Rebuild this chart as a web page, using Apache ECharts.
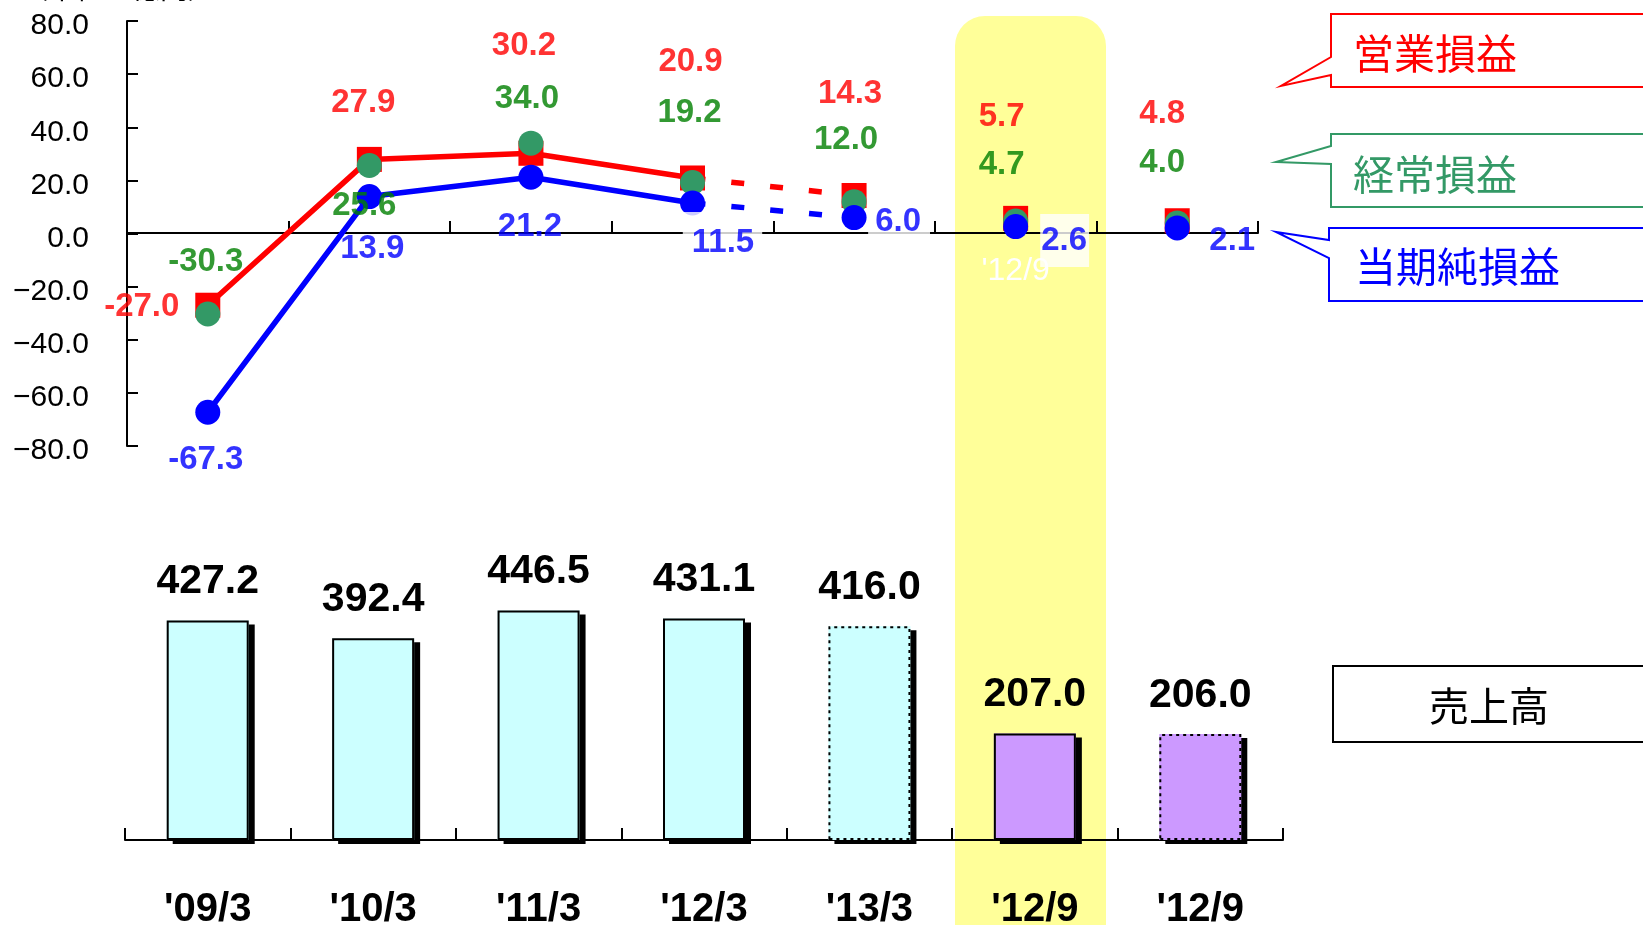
<!DOCTYPE html>
<html>
<head>
<meta charset="utf-8">
<script src="https://cdn.jsdelivr.net/npm/echarts@6/dist/echarts.min.js"></script>
<style>
  html, body { margin: 0; padding: 0; background: #fff; }
  #chart { width: 1643px; height: 925px; }
</style>
</head>
<body>
<div id="chart"></div>
<script>
// カテゴリと値
var categories = ["'09/3", "'10/3", "'11/3", "'12/3", "'13/3", "'12/9", "'12/9"];
var sales = [427.2, 392.4, 446.5, 431.1, 416.0, 207.0, 206.0];           // 売上高
var operatingProfit = [-27.0, 27.9, 30.2, 20.9, 14.3, 5.7, 4.8];         // 営業損益
var ordinaryProfit = [-30.3, 25.6, 34.0, 19.2, 12.0, 4.7, 4.0];          // 経常損益
var netProfit = [-67.3, 13.9, 21.2, 11.5, 6.0, 2.6, 2.1];                // 当期純損益
var profitTicks = [-80, -60, -40, -20, 0, 20, 40, 60, 80];
var salesMax = 500;

// 予想・半期の区別
var forecast = [false, false, false, false, true, false, true];
var halfYear = [false, false, false, false, false, true, true];

// ラベル位置のずらし (px)
var opOffset = [[-66, 2], [-6, -56], [-7, -107], [-2, -116], [-4, -102], [-14, -101], [-15, -107]];
var orOffset = [[-2, -52], [-5, 40], [-4, -44], [-3, -70], [-8, -62], [-14, -56], [-15, -60]];
var npOffset = [[-2, 48], [3, 52], [-1, 50], [30, 40], [45, 4], [49, 14], [55, 13]];
var npLabelBox = {3: [21, 8, 8, 9], 4: [4, 9, 6, 7], 5: [10, 2, 10, 1]};

var NUM_FONT = "'Liberation Sans', Arial, sans-serif";
var JP_FONT = "'Noto Sans CJK JP', sans-serif";
var RED = '#ff0000', GREEN = '#339966', GREEN_TXT = '#008000', BLUE = '#0000ff';

function segment(arr, from, to) {
    return arr.map(function (v, i) { return (i >= from && i <= to) ? v : '-'; });
}
function points(arr) {
    return arr.map(function (v, i) { return [i, v]; });
}
function labelPoints(arr, offsets, color, boxes) {
    return arr.map(function (v, i) {
        var lab = { offset: offsets[i], color: color };
        if (boxes && boxes[i]) {
            lab.backgroundColor = '#fff';
            lab.padding = boxes[i];
        }
        return { value: [i, v], label: lab };
    });
}
function lineSeries(arr, from, to, color, dashed, z) {
    return {
        type: 'line', xAxisIndex: 0, yAxisIndex: 0, z: z,
        data: segment(arr, from, to),
        showSymbol: false, symbol: 'none', silent: true,
        lineStyle: { color: color, width: 5.5, type: dashed ? [13, 26] : 'solid', cap: 'butt' }
    };
}
function markerSeries(arr, symbol, color, z) {
    return {
        type: 'scatter', xAxisIndex: 0, yAxisIndex: 0, z: z,
        data: points(arr), symbol: symbol, symbolSize: 25,
        itemStyle: { color: color, opacity: 1 }
    };
}
function labelSeries(arr, offsets, color, boxes) {
    return {
        type: 'scatter', xAxisIndex: 0, yAxisIndex: 0, z: 10,
        data: labelPoints(arr, offsets, color, boxes),
        symbolSize: 1, itemStyle: { color: 'rgba(0,0,0,0)' },
        label: {
            show: true, position: 'inside', align: 'center', verticalAlign: 'middle',
            fontFamily: NUM_FONT, fontWeight: 'bold', fontSize: 33,
            formatter: function (p) { return p.value[1].toFixed(1); }
        }
    };
}

// 塗り+影 と 枠線 を別々に描く
var barFill = sales.map(function (v, i) {
    return { value: v, itemStyle: { color: halfYear[i] ? '#cc99ff' : '#ccffff' } };
});
var barFrame = sales.map(function (v, i) {
    return { value: v, itemStyle: { borderType: forecast[i] ? [3, 4] : 'solid' } };
});

function callout(pts, color, text, tx, ty) {
    return [{
        type: 'polygon', z: 100,
        shape: { points: pts },
        style: { fill: '#fff', stroke: color, lineWidth: 2 }
    }, {
        type: 'text', z: 101, x: tx, y: ty,
        style: { text: text, fill: color, font: '41px ' + JP_FONT, textVerticalAlign: 'middle' }
    }];
}

var axisBlack = { color: '#000', width: 2 };

var chart = echarts.init(document.getElementById('chart'), null, { renderer: 'canvas' });

chart.setOption({
    animation: false,
    backgroundColor: '#fff',
    grid: [
        { left: 127, top: 21, width: 1131, height: 425, outerBoundsMode: 'none' },
        { left: 125, top: 583, width: 1158, height: 257, outerBoundsMode: 'none' },
        { left: 127, top: 21, width: 1131, height: 212, outerBoundsMode: 'none' }   // ゼロ線の軸用
    ],
    xAxis: [{
        type: 'category', gridIndex: 0, data: categories, boundaryGap: true, show: false
    }, {
        type: 'category', gridIndex: 1, data: categories, boundaryGap: true,
        axisLine: { lineStyle: axisBlack },
        axisTick: { show: true, inside: true, length: 12, interval: 0, lineStyle: axisBlack },
        axisLabel: { color: '#000', fontFamily: NUM_FONT, fontWeight: 'bold', fontSize: 40, margin: 50, interval: 0 }
    }, {
        type: 'category', gridIndex: 2, data: categories, boundaryGap: true,
        axisLine: { onZero: false, lineStyle: axisBlack },
        axisTick: { show: true, inside: true, length: 12, interval: 0, lineStyle: axisBlack },
        axisLabel: { color: '#fff', fontFamily: NUM_FONT, fontSize: 32, margin: 22, interval: 0 }
    }],
    yAxis: [{
        type: 'value', gridIndex: 0,
        min: profitTicks[0], max: profitTicks[profitTicks.length - 1], interval: 20,
        splitLine: { show: false },
        axisLine: { show: true, lineStyle: axisBlack },
        axisTick: { show: true, inside: true, length: 11, lineStyle: axisBlack },
        axisLabel: {
            color: '#000', fontFamily: NUM_FONT, fontSize: 30, margin: 38,
            verticalAlign: 'top', lineHeight: 10,
            formatter: function (v) { return v.toFixed(1).replace('-', '\u2212'); }
        }
    }, {
        type: 'value', gridIndex: 1, min: 0, max: salesMax, show: false
    }, {
        type: 'value', gridIndex: 2, min: 0, max: 1, show: false
    }],
    series: [
        // 営業損益
        lineSeries(operatingProfit, 0, 3, RED, false, 2),
        lineSeries(operatingProfit, 3, 4, RED, true, 2),
        markerSeries(operatingProfit, 'rect', RED, 3),
        // 経常損益
        markerSeries(ordinaryProfit, 'circle', GREEN, 4),
        // 当期純損益
        lineSeries(netProfit, 0, 3, BLUE, false, 5),
        lineSeries(netProfit, 3, 4, BLUE, true, 5),
        markerSeries(netProfit, 'circle', BLUE, 6),
        // 値ラベル
        labelSeries(operatingProfit, opOffset, RED),
        labelSeries(ordinaryProfit, orOffset, GREEN_TXT),
        labelSeries(netProfit, npOffset, BLUE, npLabelBox),
        // 売上高 (塗りと影)
        {
            type: 'bar', xAxisIndex: 1, yAxisIndex: 1, z: 2,
            data: barFill, barWidth: 82,
            itemStyle: { shadowColor: '#000', shadowBlur: 0, shadowOffsetX: 6, shadowOffsetY: 4 }
        },
        // 売上高 (枠線とラベル)
        {
            type: 'bar', xAxisIndex: 1, yAxisIndex: 1, z: 3,
            data: barFrame, barWidth: 82, barGap: '-100%',
            itemStyle: { color: 'rgba(0,0,0,0)', borderColor: '#000', borderWidth: 2 },
            label: {
                show: true, position: 'top', distance: 18, color: '#000',
                fontFamily: NUM_FONT, fontWeight: 'bold', fontSize: 41,
                formatter: function (p) { return p.value.toFixed(1); }
            }
        }
    ],
    graphic: {
        elements: [
            {
                type: 'rect', z: -10, silent: true,
                shape: { x: 955, y: 16, width: 151, height: 960, r: [30, 30, 0, 0] },
                style: { fill: '#ffff99' }
            },
            {
                type: 'text', z: 1, x: 20, y: -26,
                style: { text: '（単位：億円）', fill: '#000', font: '28px ' + JP_FONT }
            }
        ].concat(
            callout([[1331, 14], [1720, 14], [1720, 87], [1331, 87], [1331, 75], [1281, 86], [1331, 57]], RED, '営業損益', 1353, 53),
            callout([[1331, 134], [1720, 134], [1720, 207], [1331, 207], [1331, 164], [1276, 162], [1331, 146]], GREEN, '経常損益', 1353, 174),
            callout([[1329, 228], [1720, 228], [1720, 301], [1329, 301], [1329, 258], [1276, 232], [1329, 240]], BLUE, '当期純損益', 1355, 266),
            [{
                type: 'rect', z: 100,
                shape: { x: 1333, y: 666, width: 400, height: 76 },
                style: { fill: '#fff', stroke: '#000', lineWidth: 2 }
            }, {
                type: 'text', z: 101, x: 1489, y: 706,
                style: { text: '売上高', fill: '#000', font: '40px ' + JP_FONT, textAlign: 'center', textVerticalAlign: 'middle' }
            }]
        )
    }
});
</script>
</body>
</html>
